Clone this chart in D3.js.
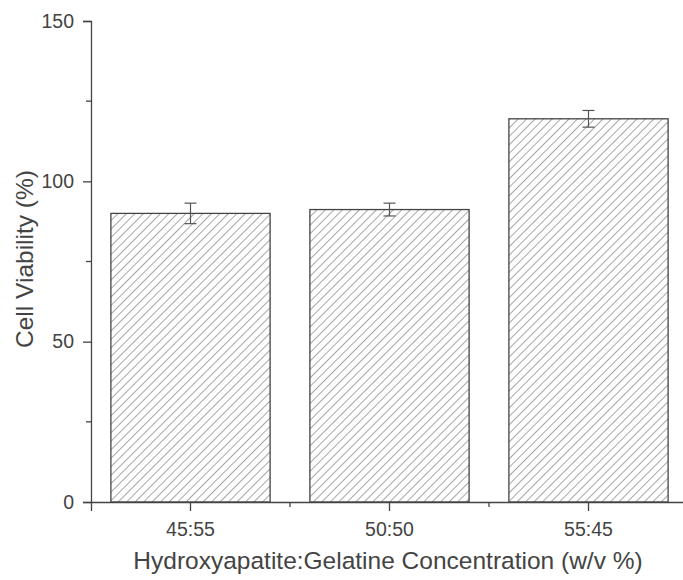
<!DOCTYPE html>
<html>
<head>
<meta charset="utf-8">
<script src="https://cdn.jsdelivr.net/npm/d3@7"></script>
<style>
  body { margin: 0; background: #fff; }
  svg text { font-family: "Liberation Sans", Arial, sans-serif; fill: #444; }
</style>
</head>
<body>
<div id="chart"></div>
<script>
// data
const ratios = ["45:55", "50:50", "55:45"];
const viability = [90.0, 91.2, 119.5];
const viabilityErr = [3.2, 2.0, 2.6];
const yTicks = [0, 50, 100, 150];
const yMinorTicks = [25, 75, 125];

const width = 683,
  height = 580;
const margin = { left: 91, top: 21, right: -5, bottom: 78 };

const svg = d3
  .select("#chart")
  .append("svg")
  .attr("width", width)
  .attr("height", height);

// hatch for the bars
const pat = svg
  .append("defs")
  .append("pattern")
  .attr("id", "hatch")
  .attr("patternUnits", "userSpaceOnUse")
  .attr("width", 6)
  .attr("height", 6)
  .attr("patternTransform", "rotate(45)");
pat
  .append("line")
  .attr("x1", 0)
  .attr("y1", 0)
  .attr("x2", 0)
  .attr("y2", 6)
  .attr("stroke", "#777")
  .attr("stroke-width", 1.3);

const x = d3
  .scaleBand()
  .domain(ratios)
  .range([margin.left, width - margin.right])
  .paddingInner(0.2)
  .paddingOuter(0.1);

const y = d3
  .scaleLinear()
  .domain([0, 150])
  .range([height - margin.bottom, margin.top]);

const y0 = y(0);

//bars
svg
  .selectAll(".bar")
  .data(ratios)
  .enter()
  .append("rect")
  .attr("class", "bar")
  .attr("x", (d) => x(d))
  .attr("y", (d, i) => y(viability[i]))
  .attr("width", x.bandwidth())
  .attr("height", (d, i) => y0 - y(viability[i]))
  .attr("fill", "url(#hatch)")
  .attr("stroke", "#444")
  .attr("stroke-width", 1.3);

//error bars
const cx = (d) => x(d) + x.bandwidth() / 2;
const err = svg.append("g").attr("stroke", "#555").attr("stroke-width", 1.2);
ratios.forEach((d, i) => {
  const hi = y(viability[i] + viabilityErr[i]);
  const lo = y(viability[i] - viabilityErr[i]);
  err.append("line").attr("x1", cx(d)).attr("x2", cx(d)).attr("y1", hi).attr("y2", lo);
  err.append("line").attr("x1", cx(d) - 6).attr("x2", cx(d) + 6).attr("y1", hi).attr("y2", hi);
  err.append("line").attr("x1", cx(d) - 6).attr("x2", cx(d) + 6).attr("y1", lo).attr("y2", lo);
});

//y axis
const yAxis = svg
  .append("g")
  .attr("transform", `translate(${margin.left},0)`)
  .call(d3.axisLeft(y).tickValues(yTicks).tickSize(8).tickPadding(9));
yAxis
  .append("g")
  .selectAll("line")
  .data(yMinorTicks)
  .enter()
  .append("line")
  .attr("x1", -5)
  .attr("x2", 0)
  .attr("y1", (d) => y(d))
  .attr("y2", (d) => y(d));

//x axis
const xAxis = svg
  .append("g")
  .attr("transform", `translate(0,${y0})`)
  .call(d3.axisBottom(x).tickSize(9).tickPadding(11));
// minor ticks at the band edges
const edges = ratios.map((d) => x(d) - (x.step() - x.bandwidth()) / 2).slice(1);
xAxis
  .append("g")
  .selectAll("line")
  .data(edges)
  .enter()
  .append("line")
  .attr("x1", (d) => d)
  .attr("x2", (d) => d)
  .attr("y1", 0)
  .attr("y2", 5);

svg.selectAll(".domain").attr("stroke", "#444").attr("stroke-width", 1.3);
svg.selectAll(".tick line").attr("stroke", "#444").attr("stroke-width", 1.3);
xAxis.selectAll("g > line").attr("stroke", "#444").attr("stroke-width", 1.3);
yAxis.selectAll("g > line").attr("stroke", "#444").attr("stroke-width", 1.3);
svg.selectAll(".tick text").attr("font-size", 19.5).attr("fill", "#444");

//titles
svg
  .append("text")
  .attr("x", 388)
  .attr("y", 569)
  .attr("text-anchor", "middle")
  .attr("font-size", 24.5)
  .text("Hydroxyapatite:Gelatine Concentration (w/v %)");

svg
  .append("text")
  .attr("transform", `translate(33,259) rotate(-90)`)
  .attr("text-anchor", "middle")
  .attr("font-size", 24.5)
  .text("Cell Viability (%)");
</script>
</body>
</html>
